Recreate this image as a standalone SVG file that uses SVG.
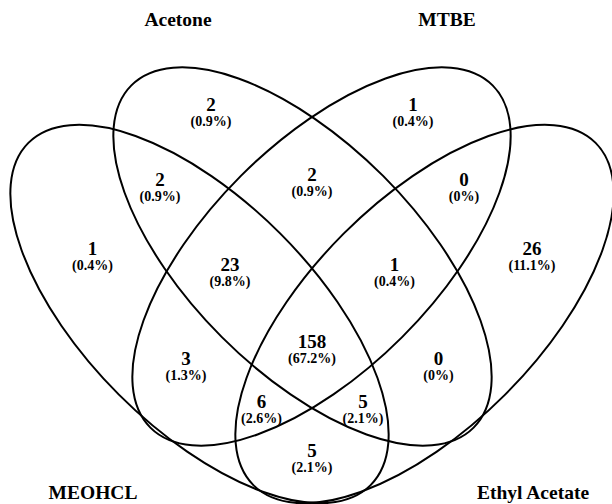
<svg xmlns="http://www.w3.org/2000/svg" width="612" height="504" viewBox="0 0 612 504">
<style>
.e{fill:none;stroke:#000;stroke-width:2}
.n{font-family:"Liberation Serif","Times New Roman",serif;font-weight:bold;font-size:19px;text-anchor:middle;fill:#000}
.p{font-family:"Liberation Serif","Times New Roman",serif;font-weight:bold;font-size:14px;text-anchor:middle;fill:#000}
.c{font-family:"Liberation Serif","Times New Roman",serif;font-weight:bold;font-size:19.5px;text-anchor:middle;fill:#000}
</style>
<rect width="612" height="504" fill="#fff"/>
<g id="connectors">
<ellipse class="e" id="ell-meohcl" cx="0" cy="0" rx="242" ry="114" transform="translate(199.5 314) rotate(45)"/>
<ellipse class="e" id="ell-acetone" cx="0" cy="0" rx="242" ry="114" transform="translate(302.5 256.5) rotate(45)"/>
<ellipse class="e" id="ell-mtbe" cx="0" cy="0" rx="242" ry="114" transform="translate(321.5 256.5) rotate(-45)"/>
<ellipse class="e" id="ell-ea" cx="0" cy="0" rx="242" ry="114" transform="translate(424.5 314) rotate(-45)"/>
</g>
<g id="cat-acetone"><text class="c" x="178" y="26">Acetone</text></g>
<g id="cat-mtbe"><text class="c" x="447" y="26">MTBE</text></g>
<g id="cat-meohcl"><text class="c" x="93" y="499">MEOHCL</text></g>
<g id="cat-ea"><text class="c" x="533" y="499">Ethyl Acetate</text></g>
<g id="r1"><text class="n" x="211" y="110.7">2</text><text class="p" x="211" y="125.7">(0.9%)</text></g>
<g id="r2"><text class="n" x="413" y="110.7">1</text><text class="p" x="413" y="125.7">(0.4%)</text></g>
<g id="r3"><text class="n" x="160" y="186.4">2</text><text class="p" x="160" y="201.4">(0.9%)</text></g>
<g id="r4"><text class="n" x="312" y="181.4">2</text><text class="p" x="312" y="196.4">(0.9%)</text></g>
<g id="r5"><text class="n" x="464" y="186.4">0</text><text class="p" x="464" y="201.4">(0%)</text></g>
<g id="r6"><text class="n" x="92.5" y="254.7">1</text><text class="p" x="92.5" y="269.7">(0.4%)</text></g>
<g id="r7"><text class="n" x="230" y="271.4">23</text><text class="p" x="230" y="286.4">(9.8%)</text></g>
<g id="r8"><text class="n" x="394.5" y="271.4">1</text><text class="p" x="394.5" y="286.4">(0.4%)</text></g>
<g id="r9"><text class="n" x="532" y="254.7">26</text><text class="p" x="532" y="269.7">(11.1%)</text></g>
<g id="r10"><text class="n" x="312" y="348">158</text><text class="p" x="312" y="363">(67.2%)</text></g>
<g id="r11"><text class="n" x="186" y="364.7">3</text><text class="p" x="186" y="379.7">(1.3%)</text></g>
<g id="r12"><text class="n" x="438.5" y="364.7">0</text><text class="p" x="438.5" y="379.7">(0%)</text></g>
<g id="r13"><text class="n" x="261.5" y="408">6</text><text class="p" x="261.5" y="423">(2.6%)</text></g>
<g id="r14"><text class="n" x="363" y="408">5</text><text class="p" x="363" y="423">(2.1%)</text></g>
<g id="r15"><text class="n" x="312" y="457">5</text><text class="p" x="312" y="472">(2.1%)</text></g>
</svg>
